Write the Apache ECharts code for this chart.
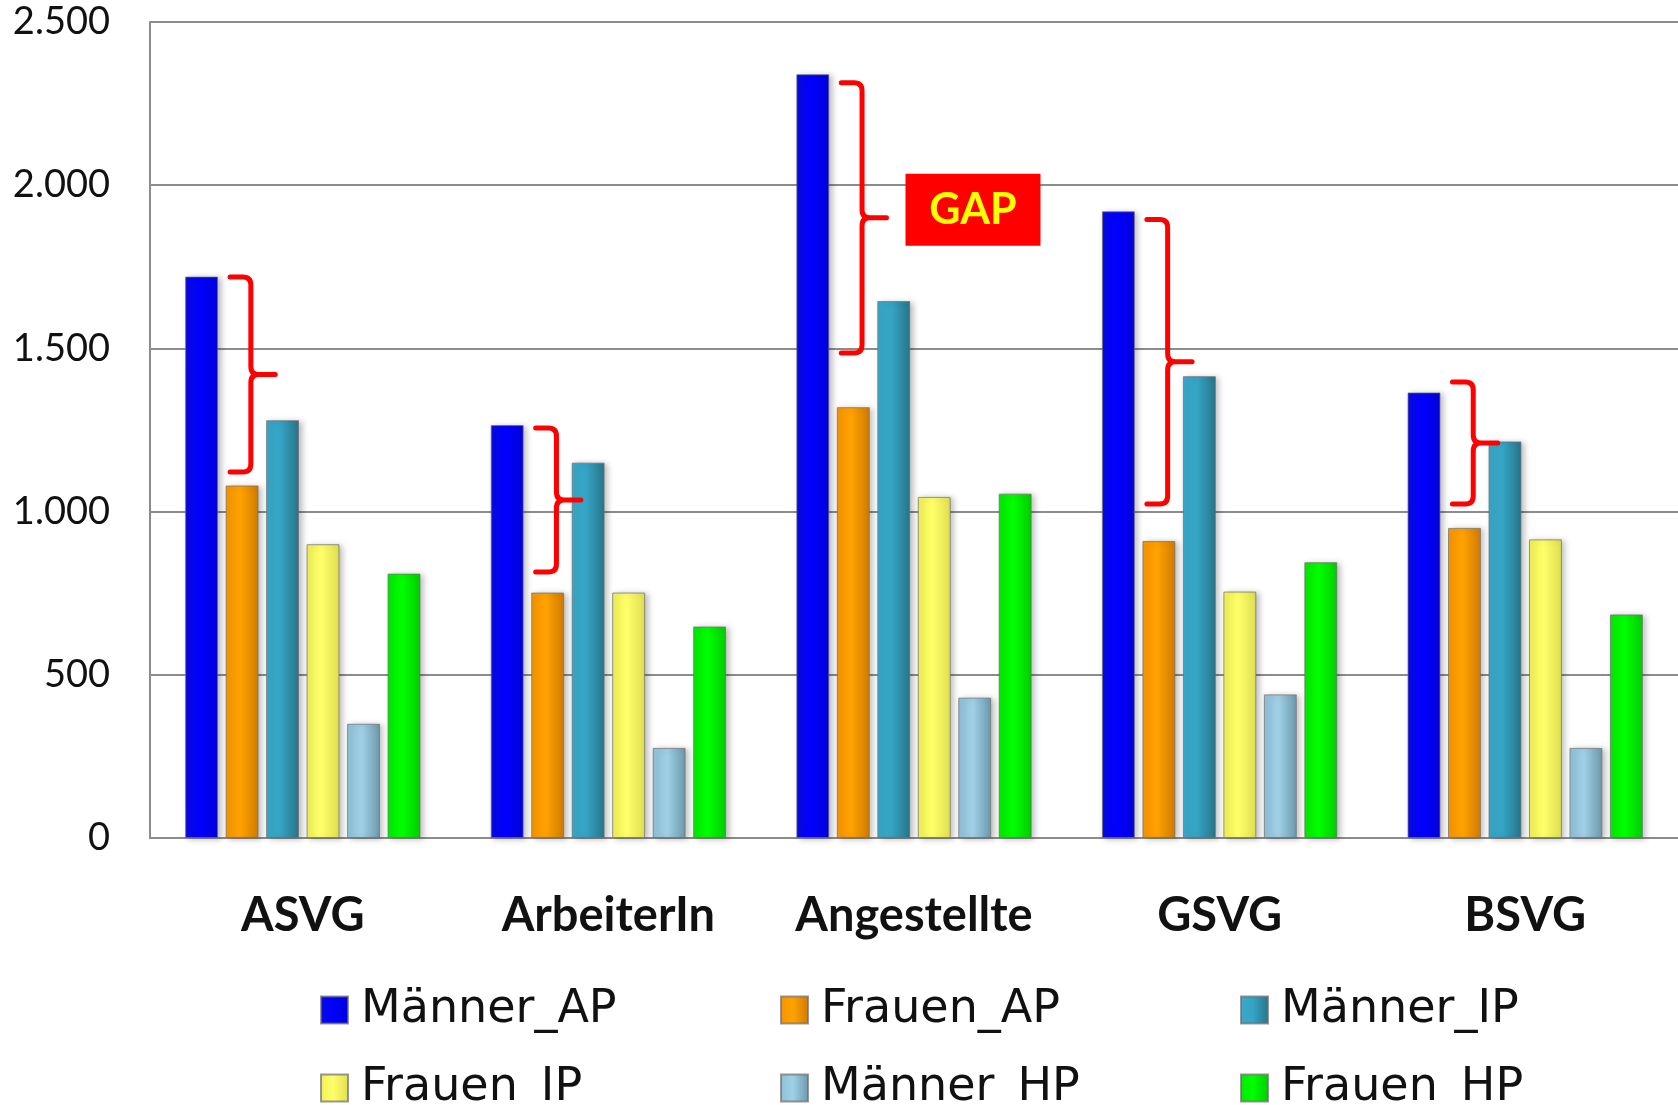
<!DOCTYPE html>
<html>
<head>
<meta charset="utf-8">
<script src="https://cdn.jsdelivr.net/npm/echarts@6/dist/echarts.min.js"></script>
<style>
html,body{margin:0;padding:0;background:#fff;}
#chart{width:1678px;height:1105px;}
</style>
</head>
<body>
<div id="chart"></div>
<script>
const categories = ['ASVG', 'ArbeiterIn', 'Angestellte', 'GSVG', 'BSVG'];
const seriesNames = ['Männer_AP', 'Frauen_AP', 'Männer_IP', 'Frauen_IP', 'Männer_HP', 'Frauen_HP'];
const maennerAP = [1720, 1265, 2340, 1920, 1365];
const frauenAP  = [1080, 752, 1320, 910, 950];
const maennerIP = [1280, 1150, 1645, 1415, 1215];
const frauenIP  = [900, 752, 1045, 755, 915];
const maennerHP = [350, 276, 430, 440, 276];
const frauenHP  = [810, 648, 1055, 845, 685];
const gapTop    = [1719, 1256, 2314, 1895, 1397];
const gapBottom = [1121, 815, 1486, 1023, 1023];
const gapLabel  = ['', '', 'GAP', '', ''];
const yTicks = [0, 500, 1000, 1500, 2000, 2500];

const seriesValues = [maennerAP, frauenAP, maennerIP, frauenIP, maennerHP, frauenHP];
const palette = [
  ['#0a0ae0', '#0000ff', '#0000d8'],
  ['#f59400', '#ffa200', '#d07a00'],
  ['#3aa8c8', '#35a3c4', '#277488'],
  ['#eeee55', '#ffff6a', '#dede50'],
  ['#8dbfd6', '#9fd0e6', '#6c98ab'],
  ['#00e800', '#00ff00', '#00cc00']
];

const chart = echarts.init(document.getElementById('chart'), null, {renderer: 'canvas'});

function grad(c) {
  return new echarts.graphic.LinearGradient(0, 0, 1, 0, [
    {offset: 0, color: c[0]}, {offset: 0.45, color: c[1]}, {offset: 1, color: c[2]}
  ]);
}

const barSeries = seriesNames.map((name, i) => ({
  name: name,
  type: 'bar',
  data: seriesValues[i],
  barGap: '23%',
  barCategoryGap: '23%',
  itemStyle: {
    color: grad(palette[i]),
    borderColor: 'rgba(110,110,110,0.7)',
    borderWidth: 1,
    shadowBlur: 6,
    shadowOffsetX: 3,
    shadowOffsetY: 1,
    shadowColor: 'rgba(0,0,0,0.25)'
  },
  emphasis: {disabled: true}
}));

const braceData = categories.map((c, i) => [i, gapTop[i], gapBottom[i]]);

const braceSeries = {
  type: 'custom',
  name: 'gap',
  z: 10,
  silent: true,
  encode: {x: 0, y: [1, 2]},
  data: braceData,
  renderItem: function (params, api) {
    const idx = api.value(0);
    const pTop = api.coord([idx, api.value(1)]);
    const pBot = api.coord([idx, api.value(2)]);
    const bw = api.size([1, 0])[0];
    const cx = pTop[0];
    const x0 = cx - 0.238 * bw;
    const xv = cx - 0.170 * bw;
    const xt = cx - 0.090 * bw;
    const yT = pTop[1], yB = pBot[1], ym = (yT + yB) / 2;
    const r = 8;
    const d = 'M' + x0 + ' ' + yT + ' L' + (xv - r) + ' ' + yT +
      ' Q' + xv + ' ' + yT + ' ' + xv + ' ' + (yT + r) +
      ' L' + xv + ' ' + (ym - r) +
      ' Q' + xv + ' ' + ym + ' ' + (xv + r) + ' ' + ym +
      ' L' + xt + ' ' + ym +
      ' M' + (xv + r) + ' ' + ym +
      ' Q' + xv + ' ' + ym + ' ' + xv + ' ' + (ym + r) +
      ' L' + xv + ' ' + (yB - r) +
      ' Q' + xv + ' ' + yB + ' ' + (xv - r) + ' ' + yB +
      ' L' + x0 + ' ' + yB;
    const children = [{
      type: 'path',
      shape: {pathData: d},
      style: {fill: 'none', stroke: '#ff0000', lineWidth: 5, lineCap: 'round', lineJoin: 'round'}
    }];
    const lab = gapLabel[idx];
    if (lab) {
      const bx = xt + 19, by = ym - 44, w = 135, h = 72;
      children.push({
        type: 'rect',
        shape: {x: bx, y: by, width: w, height: h},
        style: {fill: '#ff0000'}
      });
      children.push({
        type: 'text',
        x: bx + w / 2, y: by + h / 2,
        style: {
          text: lab, fill: '#ffff00', font: 'bold 43px Lato, sans-serif',
          align: 'center', verticalAlign: 'middle'
        }
      });
    }
    return {type: 'group', children: children};
  }
};

chart.setOption({
  animation: false,
  backgroundColor: '#ffffff',
  textStyle: {fontFamily: 'Lato, sans-serif'},
  grid: {left: 150, right: 0, top: 22, bottom: 267, containLabel: false},
  legend: {
    data: seriesNames,
    left: 320,
    top: 985,
    padding: 0,
    width: 1420,
    itemWidth: 27,
    itemHeight: 27,
    itemGap: 28,
    icon: 'rect',
    selectedMode: false,
    textStyle: {
      fontFamily: '"DejaVu Sans", sans-serif',
      fontSize: 46,
      color: '#111',
      width: 391,
      lineHeight: 40,
      padding: [10, 0, 0, 8]
    }
  },
  xAxis: {
    type: 'category',
    data: categories,
    axisLine: {lineStyle: {color: '#8c8c8c', width: 2}},
    axisTick: {show: false},
    axisLabel: {
      interval: 0,
      margin: 54,
      fontFamily: 'Lato, sans-serif',
      fontWeight: 'bold',
      fontSize: 47,
      color: '#111'
    }
  },
  yAxis: {
    type: 'value',
    min: yTicks[0],
    max: yTicks[yTicks.length - 1],
    interval: yTicks[1] - yTicks[0],
    axisLine: {show: true, lineStyle: {color: '#8c8c8c', width: 2}},
    axisTick: {show: false},
    splitLine: {lineStyle: {color: '#8c8c8c', width: 2}},
    axisLabel: {
      margin: 40,
      fontFamily: 'Lato, sans-serif',
      fontSize: 38,
      color: '#111',
      formatter: function (v) { return String(v).replace(/\B(?=(\d{3})+(?!\d))/g, '.'); }
    }
  },
  series: barSeries.concat([braceSeries])
});
</script>
</body>
</html>
